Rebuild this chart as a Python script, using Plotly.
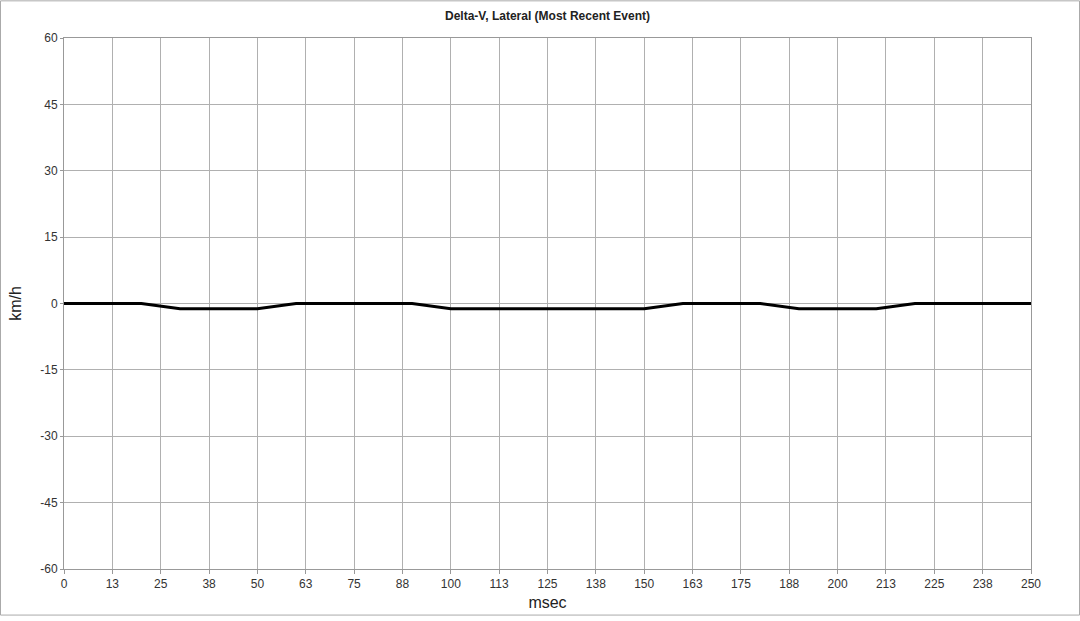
import plotly.graph_objects as go

time_ms = [0, 10, 20, 30, 40, 50, 60, 70, 80, 90, 100, 110, 120, 130, 140, 150,
           160, 170, 180, 190, 200, 210, 220, 230, 240, 250]
delta_v = [0, 0, 0, -1.2, -1.2, -1.2, 0, 0, 0, 0, -1.2, -1.2, -1.2, -1.2, -1.2, -1.2,
           0, 0, 0, -1.2, -1.2, -1.2, 0, 0, 0, 0]

x_tickvals = [i * 12.5 for i in range(21)]
x_ticktext = ["0", "13", "25", "38", "50", "63", "75", "88", "100", "113", "125",
              "138", "150", "163", "175", "188", "200", "213", "225", "238", "250"]
y_tickvals = [-60, -45, -30, -15, 0, 15, 30, 45, 60]
y_ticktext = ["-60", "-45", "-30", "-15", "0", "15", "30", "45", "60"]

W, H = 1080, 621
L, R, T, B = 64, 49, 38, 47
pw, ph = W - L - R, H - T - B

fig = go.Figure()
fig.add_trace(go.Scatter(x=time_ms, y=delta_v, mode="lines",
                         line=dict(color="black", width=3), showlegend=False))

fig.update_layout(
    width=W, height=H,
    margin=dict(l=L, r=R, t=T, b=B),
    paper_bgcolor="white", plot_bgcolor="white",
    font=dict(family="Arial, Liberation Sans, sans-serif", color="#222"),
    title=dict(text="<b>Delta-V, Lateral (Most Recent Event)</b>",
               x=(L + pw / 2) / W, xanchor="center", y=1 - 16 / H, yanchor="middle",
               font=dict(size=12, color="#222")),
    xaxis=dict(range=[0, 250], tickvals=x_tickvals, ticktext=x_ticktext,
               showgrid=True, gridcolor="#b0b0b0", gridwidth=1,
               showline=True, linecolor="#999", mirror=True,
               ticks="outside", ticklen=4, tickcolor="#999",
               tickfont=dict(size=12, color="#333"),
               title=dict(text="msec", font=dict(size=16, color="#222"), standoff=6),
               zeroline=False),
    yaxis=dict(range=[-60, 60], tickvals=y_tickvals, ticktext=y_ticktext,
               showgrid=True, gridcolor="#b0b0b0", gridwidth=1,
               showline=True, linecolor="#999", mirror=True,
               ticks="outside", ticklen=3, tickcolor="#999",
               tickfont=dict(size=12, color="#333"),
               title=dict(text="km/h", font=dict(size=16, color="#222"), standoff=14),
               zeroline=False),
)

# outer image border
x0 = -(L - 0.5) / pw
x1 = 1 + (R - 0.5) / pw
y0 = -(B - 0.5) / ph
y1 = 1 + (T - 0.5) / ph
fig.add_shape(type="rect", xref="paper", yref="paper", x0=x0, x1=x1, y0=y0, y1=y1,
              line=dict(color="#aaa", width=1), layer="below")

post = (
    "document.documentElement.style.margin='0';"
    "document.documentElement.style.padding='0';"
    "document.documentElement.style.overflow='hidden';"
    "document.documentElement.style.height='621px';"
    "document.body.style.margin='0';"
    "document.body.style.padding='0';"
    "document.body.style.overflow='hidden';"
    "document.body.style.height='621px';"
)
fig.write_html("out.html", config={"displayModeBar": False}, post_script=post)
